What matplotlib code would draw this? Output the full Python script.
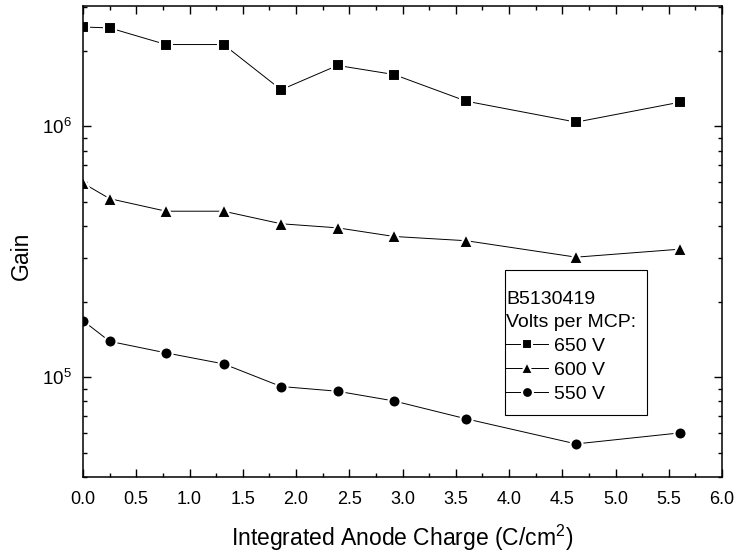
import numpy as np
import matplotlib
matplotlib.use('Agg')
import matplotlib.pyplot as plt
from matplotlib.patches import Rectangle
from matplotlib.ticker import LogLocator, MultipleLocator, LogFormatterSciNotation, NullFormatter

plt.rcParams['font.family'] = ['Liberation Sans', 'DejaVu Sans']
plt.rcParams['mathtext.fontset'] = 'custom'
plt.rcParams['mathtext.rm'] = 'Liberation Sans'
plt.rcParams['mathtext.it'] = 'Liberation Sans:italic'

# integrated anode charge (C/cm^2)
charge = [0.0, 0.25, 0.78, 1.32, 1.86, 2.39, 2.92, 3.60, 4.63, 5.61]

gain_650 = [2.49e6, 2.47e6, 2.12e6, 2.12e6, 1.40e6, 1.75e6, 1.61e6, 1.26e6, 1.04e6, 1.25e6]
gain_600 = [5.94e5, 5.15e5, 4.59e5, 4.59e5, 4.09e5, 3.94e5, 3.64e5, 3.50e5, 3.01e5, 3.24e5]
gain_550 = [1.68e5, 1.39e5, 1.25e5, 1.13e5, 9.18e4, 8.79e4, 8.04e4, 6.82e4, 5.42e4, 6.00e4]

series = [(gain_650, 's', 8.2, '650 V'),
          (gain_600, '^', 9.5, '600 V'),
          (gain_550, 'o', 8.7, '550 V')]

W, H = 738, 552
fig = plt.figure(figsize=(W/100, H/100), dpi=100)
ax = fig.add_axes([83/W, 1-477/H, (722-83)/W, (477-6)/H])

for g, m, ms, lab in series:
    ax.plot(charge, g, color='black', lw=0.7, marker=m, ms=ms,
            mfc='black', mec='white', mew=1.5, label=lab)

ax.set_yscale('log')
ax.set_xlim(0, 6)
ax.set_ylim(4.0e4, 3.02e6)

ax.xaxis.set_major_locator(MultipleLocator(0.5))
ax.xaxis.set_minor_locator(MultipleLocator(0.25))
ax.xaxis.set_major_formatter(plt.FormatStrFormatter('%.1f'))
ax.yaxis.set_major_locator(LogLocator(base=10, numticks=10))
ax.yaxis.set_minor_locator(LogLocator(base=10, subs=np.arange(2, 10), numticks=10))
ax.yaxis.set_major_formatter(LogFormatterSciNotation())
ax.yaxis.set_minor_formatter(NullFormatter())

ax.tick_params(which='both', direction='in', top=True, right=True, width=1.0, colors='black')
ax.tick_params(which='major', length=6)
ax.tick_params(which='minor', length=3)
ax.tick_params(axis='x', which='major', labelsize=13, pad=10)
ax.tick_params(axis='y', which='major', labelsize=13.5, pad=8)
for s in ax.spines.values():
    s.set_linewidth(1.1)

ax.set_xlabel('Integrated Anode Charge (C/cm$^2$)', fontsize=16.5, labelpad=11)
ax.set_ylabel('Gain', fontsize=16.5, labelpad=7, y=0.469)

# legend box (drawn separately so the padding matches)
fig.patches.append(Rectangle((505/W, 1-415/H), 142/W, 145/H, transform=fig.transFigure,
                             fill=False, edgecolor='black', lw=0.8, zorder=5))
leg = ax.legend(title='B5130419\nVolts per MCP:', loc='upper left',
                bbox_to_anchor=(506/W, 1-291/H), bbox_transform=fig.transFigure,
                fontsize=14, title_fontsize=14, alignment='left',
                frameon=False, handlelength=2.15, handletextpad=0.3, labelspacing=0.33,
                borderpad=0.0, borderaxespad=0, markerscale=0.9)
leg.get_title().set_linespacing(1.45)

fig.savefig('out.png', dpi=100)
